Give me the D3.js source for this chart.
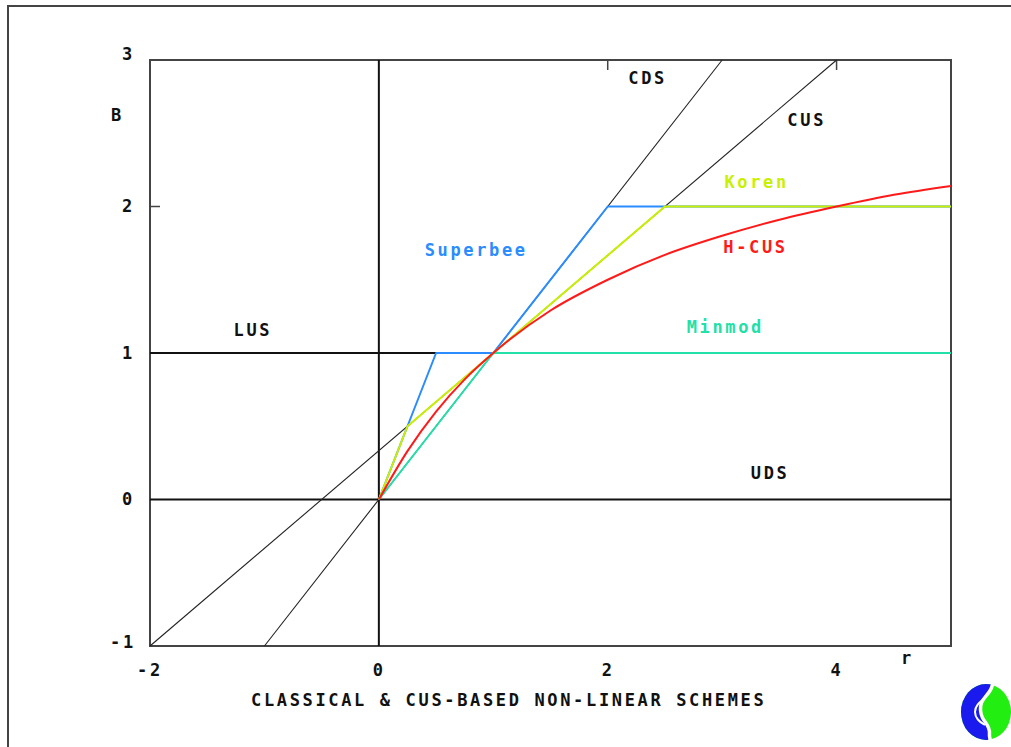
<!DOCTYPE html>
<html>
<head>
<meta charset="utf-8">
<script src="https://cdn.jsdelivr.net/npm/d3@7"></script>
<style>
  html, body { margin: 0; padding: 0; background: #fff; }
  svg { display: block; }
  text { font-family: "DejaVu Sans Mono", monospace; font-weight: bold; font-size: 17px; letter-spacing: 2.65px; }
</style>
</head>
<body>
<svg id="chart" width="1011" height="747"></svg>
<script>
// Axis ticks
const rTicks = [-2, 0, 2, 4];
const bTicks = [-1, 0, 1, 2, 3];

// Linear reference schemes (black)
const cdsR = [-1, 3], cdsB = [-1, 3];
const cusR = [-2, 4], cusB = [-1, 3];
const lusR = [-2, 5], lusB = [1, 1];
const udsR = [-2, 5], udsB = [0, 0];

// Non-linear limiters
const minmodR = [0, 1, 5], minmodB = [0, 1, 1];
const superbeeR = [0, 0.5, 1, 2, 5], superbeeB = [0, 1, 1, 2, 2];
const korenR = [0, 0.25, 2.5, 5], korenB = [0, 0.5, 2, 2];
const hcusR = [0, 0.25, 0.5, 0.75, 1, 1.5, 2, 2.5, 3, 3.5, 4, 4.5, 5];
const hcusB = [0, 0.33, 0.6, 0.82, 1, 1.29, 1.5, 1.67, 1.8, 1.91, 2.0, 2.08, 2.14];

// Scheme names
const schemeNames = ["CDS", "CUS", "Koren", "Superbee", "H-CUS", "Minmod", "LUS", "UDS"];

// Layout
const svg = d3.select("#chart");
const x = d3.scaleLinear().domain([-2, 5]).range([150, 951]);
const y = d3.scaleLinear().domain([-1, 3]).range([646, 60]);

const colors = {
  ink: "#111",
  frame: "#444",
  superbee: "#2a8cff",
  koren: "#c8f000",
  minmod: "#22e0a8",
  hcus: "#ff1a1a"
};

// Outer picture border (top and left edges visible)
svg.append("rect")
  .attr("x", 8).attr("y", 6).attr("width", 1100).attr("height", 800)
  .attr("fill", "none").attr("stroke", colors.frame).attr("stroke-width", 2);

// Plot frame
svg.append("rect")
  .attr("x", x(-2)).attr("y", y(3))
  .attr("width", x(5) - x(-2)).attr("height", y(-1) - y(3))
  .attr("fill", "none").attr("stroke", colors.frame).attr("stroke-width", 2);

// Inner ticks: top edge at r = 2, 4 and left edge at B = 2
svg.selectAll(".tick-top").data(rTicks.filter(d => d > 0)).join("line")
  .attr("x1", d => x(d)).attr("x2", d => x(d))
  .attr("y1", y(3)).attr("y2", y(3) + 10)
  .attr("stroke", colors.frame).attr("stroke-width", 1.5);
svg.selectAll(".tick-left").data(bTicks.filter(d => d === 2)).join("line")
  .attr("x1", x(-2)).attr("x2", x(-2) + 10)
  .attr("y1", d => y(d)).attr("y2", d => y(d))
  .attr("stroke", colors.frame).attr("stroke-width", 1.5);

// Vertical axis line through the origin
svg.append("line")
  .attr("x1", x(0)).attr("x2", x(0)).attr("y1", y(3)).attr("y2", y(-1))
  .attr("stroke", colors.ink).attr("stroke-width", 2);

const line = d3.line().x(d => x(d[0])).y(d => y(d[1]));
const zip = (a, b) => a.map((v, i) => [v, b[i]]);

function drawSeries(rs, bs, color, width, curve) {
  svg.append("path")
    .datum(zip(rs, bs))
    .attr("d", line.curve(curve || d3.curveLinear))
    .attr("fill", "none")
    .attr("stroke", color)
    .attr("stroke-width", width)
    .attr("stroke-linejoin", "round");
}

// Black reference schemes
drawSeries(udsR, udsB, colors.ink, 2);
drawSeries(lusR, lusB, colors.ink, 2);
drawSeries(cdsR, cdsB, "#222", 1.1);
drawSeries(cusR, cusB, "#222", 1.1);

// Limiters
drawSeries(minmodR, minmodB, colors.minmod, 2);
drawSeries(superbeeR, superbeeB, colors.superbee, 2);
drawSeries(korenR, korenB, colors.koren, 2);
drawSeries(hcusR, hcusB, colors.hcus, 2, d3.curveMonotoneX);

// Scheme labels
const labelPlace = {
  "CDS":      { r: 2.18, b: 2.88, color: colors.ink },
  "CUS":      { r: 3.57, b: 2.59, color: colors.ink },
  "Koren":    { r: 3.02, b: 2.17, color: colors.koren },
  "Superbee": { r: 0.40, b: 1.70, color: colors.superbee },
  "H-CUS":    { r: 3.01, b: 1.72, color: colors.hcus },
  "Minmod":   { r: 2.69, b: 1.18, color: colors.minmod },
  "LUS":      { r: -1.27, b: 1.16, color: colors.ink },
  "UDS":      { r: 3.25, b: 0.18, color: colors.ink }
};
svg.selectAll(".scheme-label").data(schemeNames).join("text")
  .attr("class", "scheme-label")
  .attr("x", d => x(labelPlace[d].r))
  .attr("y", d => y(labelPlace[d].b))
  .attr("dy", "0.35em")
  .attr("fill", d => labelPlace[d].color)
  .text(d => d);

// Tick labels
svg.selectAll(".b-label").data(bTicks).join("text")
  .attr("x", d => d < 0 ? 110 : 122)
  .attr("y", d => y(d) + (d === 3 ? -6 : d === -1 ? -4 : 0))
  .attr("dy", "0.35em")
  .attr("fill", colors.ink)
  .text(d => d < 0 ? "-" + Math.abs(d) : d);
svg.selectAll(".r-label").data(rTicks).join("text")
  .attr("x", d => x(d) - (d < 0 ? 13 : 6))
  .attr("y", 670)
  .attr("dy", "0.35em")
  .attr("fill", colors.ink)
  .text(d => d < 0 ? "-" + Math.abs(d) : d);

// Axis names and title
svg.append("text").attr("x", 111).attr("y", 115).attr("dy", "0.35em").attr("fill", colors.ink).text("B");
svg.append("text").attr("x", 901).attr("y", 658).attr("dy", "0.35em").attr("fill", colors.ink).text("r");
svg.append("text").attr("x", 251).attr("y", 700).attr("dy", "0.35em").attr("fill", colors.ink)
  .text("CLASSICAL & CUS-BASED NON-LINEAR SCHEMES");

// Emblem: blue C-shape and green half split by a wavy white seam
const emblem = svg.append("g").attr("transform", "translate(986,712)");
const seam = [[7, -29], [5, -22], [0, -16], [-5, -10], [-6, -2], [-4, 6], [1, 12], [4, 19], [3, 24], [5, 30]];
emblem.append("ellipse").attr("rx", 25).attr("ry", 28).attr("fill", "#22ee11");
emblem.append("clipPath").attr("id", "leftclip")
  .append("path")
  .attr("d", d3.line().curve(d3.curveBasis)(seam.concat([[-40, 30], [-40, -30]])) + "Z");
emblem.append("ellipse").attr("rx", 25).attr("ry", 28).attr("fill", "#1a1aee")
  .attr("clip-path", "url(#leftclip)");
emblem.append("path")
  .attr("d", d3.line().curve(d3.curveBasis)(seam))
  .attr("fill", "none").attr("stroke", "#fff").attr("stroke-width", 3.5);
// inner notch of the C
emblem.append("path")
  .attr("d", d3.line().curve(d3.curveBasis)([[-1, -14], [-9, -8], [-12, 0], [-9, 8], [-1, 13]]))
  .attr("fill", "none").attr("stroke", "#fff").attr("stroke-width", 2);
</script>
</body>
</html>
